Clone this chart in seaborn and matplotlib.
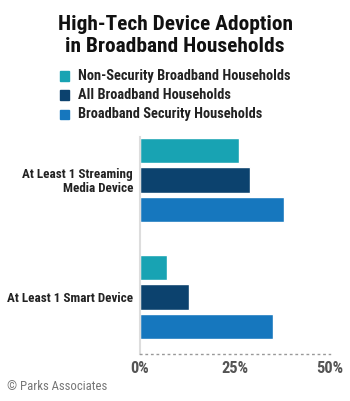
import numpy as np
import pandas as pd
import seaborn as sns
import matplotlib.pyplot as plt

# Data
categories = ['At Least 1 Streaming\nMedia Device', 'At Least 1 Smart Device']
series = ['Non-Security Broadband Households', 'All Broadband Households',
          'Broadband Security Households']
non_security = [26, 7]
all_broadband = [29, 13]
security = [38, 35]
x_ticks = [0, 25, 50]
x_tick_labels = ['0%', '25%', '50%']

colors = ['#18a3b3', '#0c426e', '#1677be']

sns.set_style('white')
plt.rcParams['font.family'] = ['Roboto Condensed', 'DejaVu Sans']

df = pd.DataFrame({
    'category': categories * 3,
    'series': [s for s in series for _ in categories],
    'value': non_security + all_broadband + security,
})

fig = plt.figure(figsize=(3.5, 4.01), dpi=100)
ax = fig.add_axes([140 / 350, 1 - 354 / 401, 190 / 350, (354 - 137) / 401])

sns.barplot(data=df, y='category', x='value', hue='series', hue_order=series,
            palette=colors, orient='h', width=0.75, gap=0.14, ax=ax,
            legend=False, saturation=1)

ax.set_xlim(0, 50)
ax.set_ylim(1.487, -0.367)
ax.set_xlabel('')
ax.set_ylabel('')
ax.tick_params(axis='x', length=0, pad=5)
ax.tick_params(axis='y', length=0, pad=5)

for s in ['top', 'right']:
    ax.spines[s].set_visible(False)
ax.spines['left'].set_color('#dddddd')
ax.spines['left'].set_linewidth(1.5)
ax.spines['bottom'].set_color('#999999')
ax.spines['bottom'].set_linestyle((0, (1, 3)))
ax.spines['bottom'].set_linewidth(1)

# Title
t1 = fig.text(0.5, 1 - 25 / 401, 'High-Tech Device Adoption', ha='center', va='center',
              fontsize=14, fontweight='bold', color='#111111')
t2 = fig.text(0.5, 1 - 46 / 401, 'in Broadband Households', ha='center', va='center',
              fontsize=14, fontweight='bold', color='#111111')

# Legend
legend_texts = []
for i, (s, c) in enumerate(zip(series, colors)):
    y = 1 - (76 + i * 19) / 401
    fig.patches.append(plt.Rectangle((60 / 350, y - 4.5 / 401), 9 / 350, 9 / 401,
                                     transform=fig.transFigure, color=c))
    legend_texts.append(fig.text(78 / 350, y, s, ha='left', va='center', fontsize=10,
                                 fontweight='bold', color='#222222'))

cp = fig.text(7 / 350, 1 - 386 / 401, '\u00a9 Parks Associates', ha='left', va='center',
              fontsize=9, color='#777777')

# scale text sizes to the widths seen in the reference
fig.canvas.draw()
r = fig.canvas.get_renderer()


def fit_size(t, width):
    return t.get_fontsize() * width / t.get_window_extent(r).width


s = fit_size(t1, 236)
t1.set_fontsize(s)
t2.set_fontsize(s)
s = fit_size(legend_texts[0], 213)
for t in legend_texts:
    t.set_fontsize(s)
cp.set_fontsize(fit_size(cp, 101))

probe = fig.text(0, 0, categories[1], fontsize=10, fontweight='bold')
ysize = fit_size(probe, 126)
probe.remove()
ax.set_yticks(range(len(categories)))
ax.set_yticklabels(categories, fontsize=ysize, fontweight='bold', color='#222222',
                   linespacing=1.05)

probe = fig.text(0, 0, x_tick_labels[1], fontsize=10, fontweight='bold')
xsize = fit_size(probe, 27)
probe.remove()
ax.set_xticks(x_ticks)
ax.set_xticklabels(x_tick_labels, fontsize=xsize, fontweight='bold', color='#555555')

fig.savefig('out.png', dpi=100)
